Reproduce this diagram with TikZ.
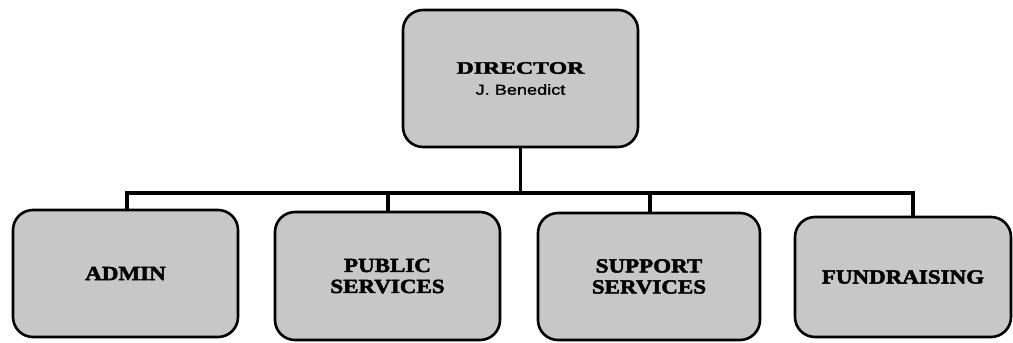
\documentclass[tikz,border=0pt]{standalone}
\usepackage{fontspec}
\setmainfont{Liberation Serif}
\newfontfamily\boxfont{Liberation Serif}[FakeStretch=1.15,FakeBold=2.5]
\newfontfamily\dirfont{Liberation Serif}[FakeStretch=1.36,FakeBold=2.5]
\newfontfamily\namefont{Liberation Sans}[FakeStretch=1.25,FakeBold=1.5]

\begin{document}
\begin{tikzpicture}[x=1pt,y=-1pt,
        unit/.style={draw,line width=2.6pt,rounded corners=20pt,fill=black!22,
            inner sep=0pt,align=center,
            font={\fontsize{20}{21}\selectfont\boxfont\bfseries}},
        link/.style={line width=3.4pt}]
    \useasboundingbox (0,0) rectangle (1013,343);
    % director at the top
    \node[unit,minimum width=235pt,minimum height=137pt] (dir) at (520.5,78.5)
        {{\fontsize{17.5}{23}\selectfont\dirfont\bfseries DIRECTOR}\\
         {\fontsize{14.5}{16}\selectfont\namefont\mdseries J. Benedict}};
    % the four units below
    \node[unit,minimum width=225pt,minimum height=127pt] (admin) at (125.5,273.5) {ADMIN};
    \node[unit,minimum width=225pt,minimum height=128pt] (pub) at (387.5,276) {PUBLIC\\SERVICES};
    \node[unit,minimum width=222pt,minimum height=127pt] (sup) at (649,276.5) {SUPPORT\\SERVICES};
    \node[unit,minimum width=216pt,minimum height=120pt] (fund) at (903,277) {FUNDRAISING};
    \coordinate (bus) at (518,193);
    % elbow connectors from the director to each unit
    \foreach \b/\s in {admin/1.5,pub/0.5,sup/1,fund/10} {
        \coordinate (\b-in) at ([xshift=\s pt]\b.north);
        \draw[link] (dir.south) |- (\b-in |- bus) -- (\b-in);
    }
\end{tikzpicture}
\end{document}
